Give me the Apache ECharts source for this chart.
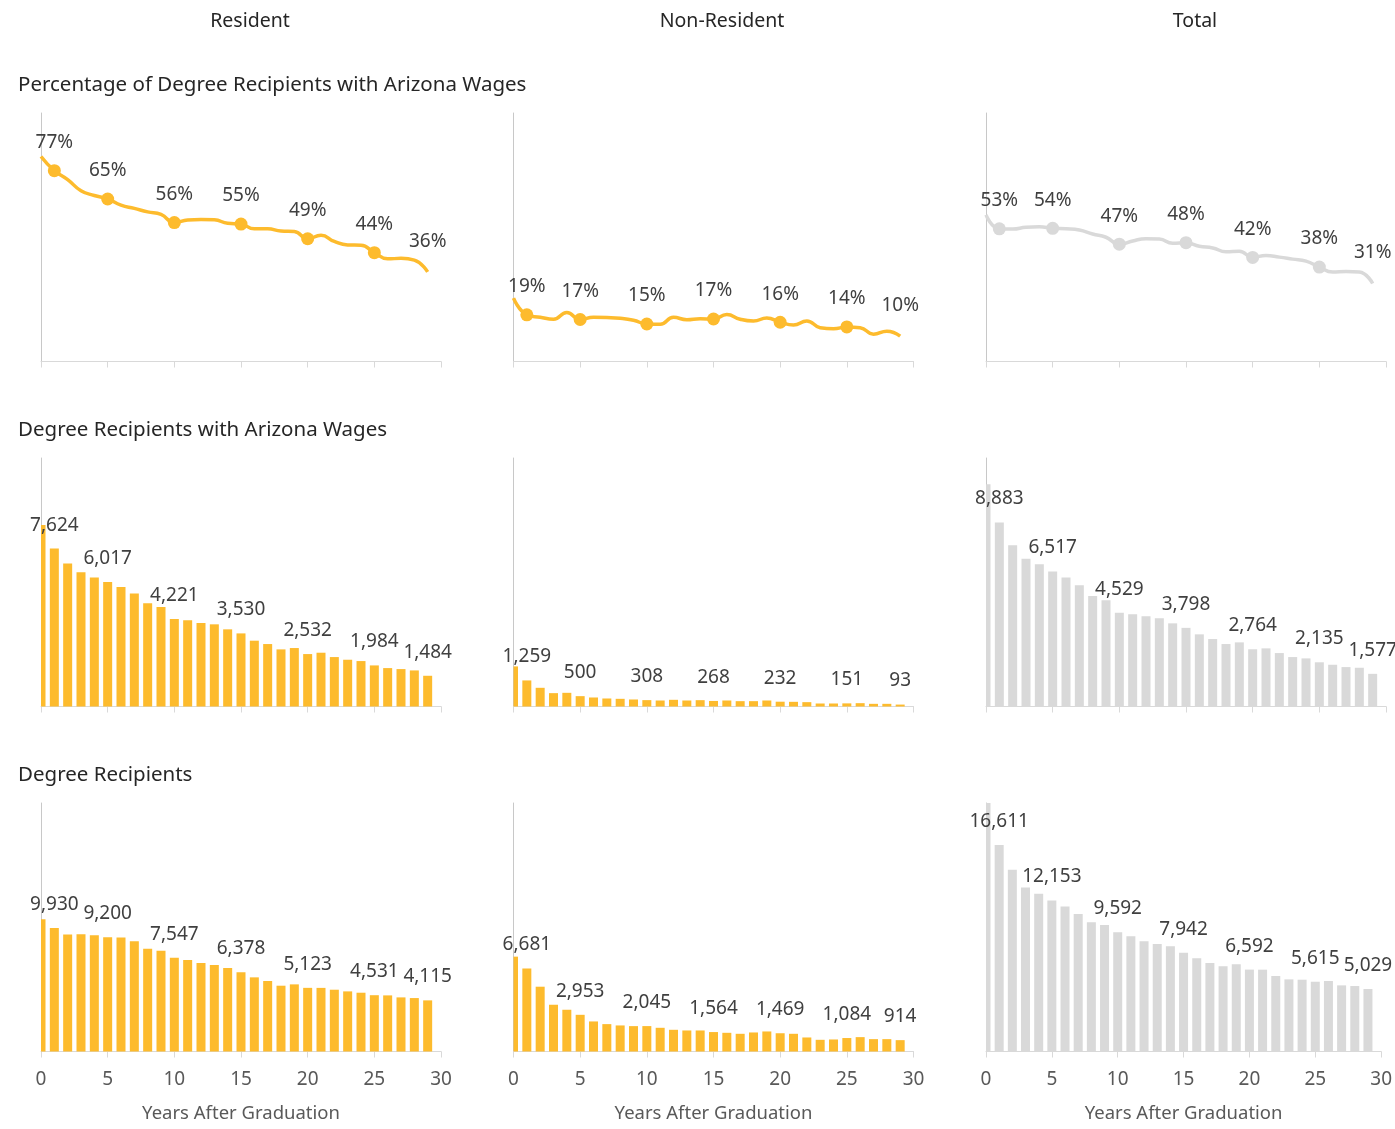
<!DOCTYPE html>
<html>
<head>
<meta charset="utf-8">
<script src="https://cdn.jsdelivr.net/npm/echarts@6/dist/echarts.min.js"></script>
<style>
html,body{margin:0;padding:0;background:#fff;}
#chart{width:1395px;height:1129px;}
</style>
</head>
<body>
<div id="chart"></div>
<script>
// ---- data ----
const years = [0,1,2,3,4,5,6,7,8,9,10,11,12,13,14,15,16,17,18,19,20,21,22,23,24,25,26,27,28,29];
const labelIdx = [1,5,10,15,20,25,29];

const columnTitles = ['Resident','Non-Resident','Total'];
const rowTitles = ['Percentage of Degree Recipients with Arizona Wages','Degree Recipients with Arizona Wages','Degree Recipients'];
const xAxisName = 'Years After Graduation';

const resPct = [82.5,76.8,73.2,68.7,66.8,65.4,62.9,61.6,60.2,59.2,55.9,56.9,57.1,57.0,55.6,55.3,53.4,53.4,52.5,52.3,49.4,50.8,48.3,46.9,46.8,43.8,41.3,41.5,40.8,36.1];
const nonPct = [25.5,18.8,17.8,17.0,19.7,16.9,17.8,17.7,17.4,16.6,15.1,15.0,17.8,16.8,17.2,17.1,18.9,17.0,16.3,17.5,15.8,14.7,16.3,13.6,13.2,13.9,13.6,11.0,12.2,10.2];
const totPct = [59.0,53.4,53.3,54.0,54.2,53.6,53.4,52.9,51.3,50.0,47.2,48.5,49.4,49.3,47.6,47.8,46.4,45.7,44.2,44.4,41.9,42.7,42.0,41.2,40.4,38.0,36.0,36.2,36.0,31.4];

const resWages = [8759,7624,6904,6484,6226,6017,5775,5452,4984,4807,4221,4162,4033,3968,3726,3530,3178,3016,2758,2823,2532,2597,2387,2258,2194,1984,1855,1807,1742,1484];
const nonWages = [1936,1259,903,645,661,500,435,387,371,339,308,290,323,290,306,268,290,258,258,290,232,226,210,145,145,151,161,129,129,93];
const totWages = [10727,8883,7791,7129,6871,6517,6226,5855,5339,5129,4529,4452,4355,4258,4016,3798,3484,3258,3016,3097,2764,2807,2581,2387,2323,2135,2016,1903,1871,1577];

const resRecip = [10645,9930,9408,9435,9354,9200,9180,8870,8279,8118,7547,7365,7123,6962,6720,6378,5967,5672,5295,5403,5123,5120,4973,4838,4731,4531,4516,4355,4301,4115];
const nonRecip = [7634,6681,5215,3763,3360,2953,2419,2204,2097,2043,2045,1908,1747,1693,1693,1564,1505,1425,1532,1613,1469,1425,1129,941,968,1084,1156,995,995,914];
const totRecip = [20300,16611,14623,13198,12687,12153,11666,11075,10403,10188,9592,9274,8870,8655,8467,7942,7500,7123,6854,7016,6592,6586,6075,5806,5779,5615,5672,5322,5268,5029];

// ---- style ----
const GOLD = '#FDBB2D';
const GREY = '#D9D9D9';
const FONT = 'Noto Sans';
const LABEL_FONT = '19px "Noto Sans"';
const colLeft = [41, 513.5, 986];
const rowTop = [113, 458, 803];
const GW = 400, GH = 248.5;
const rowMax = [100, 12000, 20000];
const BAR_W = 9;

const lineData = [resPct, nonPct, totPct];
const wageData = [resWages, nonWages, totWages];
const recipData = [resRecip, nonRecip, totRecip];
const colColors = [GOLD, GOLD, GREY];

function makeBarRenderer(color) {
  return function (params, api) {
    const xv = api.value(0), yv = api.value(1);
    const top = api.coord([xv, yv]);
    const base = api.coord([xv, 0]);
    const cs = params.coordSys;
    const rect = echarts.graphic.clipRectByRect(
      {x: top[0] - BAR_W / 2, y: top[1], width: BAR_W, height: base[1] - top[1]},
      {x: cs.x, y: cs.y, width: cs.width, height: cs.height}
    );
    if (!rect) return null;
    const el = {type: 'rect', shape: rect, style: {fill: color}};
    if (labelIdx.includes(params.dataIndex)) {
      el.textContent = {style: {text: yv.toLocaleString('en-US'), fill: '#404040', font: LABEL_FONT}};
      el.textConfig = {position: 'top', distance: 14};
    }
    return el;
  };
}

const grids = [], xAxes = [], yAxes = [], series = [];
let gi = 0;
for (let r = 0; r < 3; r++) {
  for (let c = 0; c < 3; c++) {
    grids.push({left: colLeft[c], top: rowTop[r], width: GW, height: GH, containLabel: false});
    xAxes.push({
      type: 'value', gridIndex: gi, min: 0, max: 30, interval: 5,
      axisLine: {show: true, onZero: true, lineStyle: {color: GREY, width: 1}},
      axisTick: {show: true, length: 6, lineStyle: {color: GREY}},
      splitLine: {show: false},
      axisLabel: {show: r === 2, color: '#595959', fontFamily: FONT, fontSize: 19, margin: 19},
      name: r === 2 ? xAxisName : '', nameLocation: 'middle', nameGap: 53,
      nameTextStyle: {color: '#595959', fontFamily: FONT, fontSize: 18.5}
    });
    yAxes.push({
      type: 'value', gridIndex: gi, min: 0, max: rowMax[r],
      axisLine: {show: true, lineStyle: {color: '#C8C8C8', width: 1}},
      axisTick: {show: false}, axisLabel: {show: false}, splitLine: {show: false}
    });
    const color = colColors[c];
    if (r === 0) {
      const arr = lineData[c];
      series.push({
        type: 'line', xAxisIndex: gi, yAxisIndex: gi, smooth: 0.5,
        symbol: 'circle',
        lineStyle: {color: color, width: 3.5},
        itemStyle: {color: color},
        label: {show: false, position: 'top', color: '#404040', fontFamily: FONT, fontSize: 19,
                formatter: p => Math.round(p.value[1]) + '%'},
        data: years.map((x, i) => {
          const lab = labelIdx.includes(i);
          const last = i === years.length - 1;
          return {
            value: [x, arr[i]],
            symbolSize: (lab && !last) ? 13 : 0,
            label: {show: lab, distance: last ? 21 : 12}
          };
        }),
        z: 3
      });
    } else {
      const arr = r === 1 ? wageData[c] : recipData[c];
      series.push({
        type: 'custom', xAxisIndex: gi, yAxisIndex: gi,
        renderItem: makeBarRenderer(color),
        encode: {x: 0, y: 1},
        data: years.map((x, i) => [x, arr[i]])
      });
    }
    gi++;
  }
}

const graphics = [];
const colTitleX = [250, 722, 1195];
columnTitles.forEach((t, i) => graphics.push({
  type: 'text', x: colTitleX[i], y: 21,
  style: {text: t, fill: '#262626', font: '19.5px "Noto Sans"', textAlign: 'center', textVerticalAlign: 'middle'}
}));
const rowTitleY = [85, 430, 775];
rowTitles.forEach((t, i) => graphics.push({
  type: 'text', x: 18, y: rowTitleY[i],
  style: {text: t, fill: '#262626', font: '20.5px "Noto Sans"', textAlign: 'left', textVerticalAlign: 'middle'}
}));

const chart = echarts.init(document.getElementById('chart'));
chart.setOption({
  animation: false,
  backgroundColor: '#ffffff',
  grid: grids, xAxis: xAxes, yAxis: yAxes, series: series,
  graphic: graphics
});
</script>
</body>
</html>
